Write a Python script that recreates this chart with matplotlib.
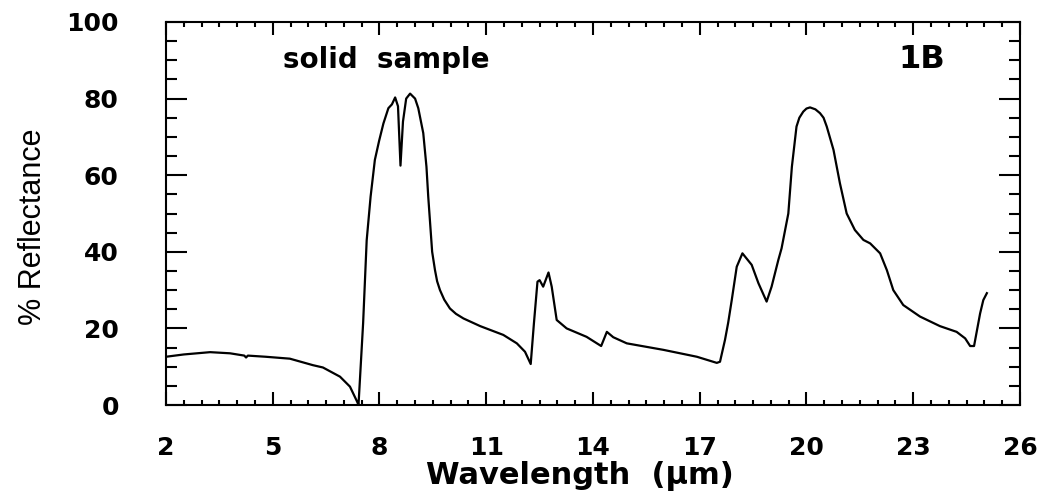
import numpy as np
from matplotlib import pyplot as plt
from matplotlib.ticker import MultipleLocator

# Спектр отражения
wavelength = [2.0, 2.5, 3.24, 3.8, 4.2, 4.25, 4.3, 4.8, 5.48, 6.13, 6.41, 6.89, 7.17, 7.37, 7.41,
              7.54, 7.64, 7.75, 7.87, 7.99, 8.11, 8.25, 8.35, 8.44, 8.52, 8.59, 8.66, 8.75, 8.86,
              9.0, 9.09, 9.23, 9.32, 9.37, 9.48, 9.56, 9.62, 9.70, 9.82, 9.98, 10.15, 10.36, 10.83,
              11.48, 11.86, 12.09, 12.25, 12.34, 12.44, 12.5, 12.6, 12.75, 12.84, 12.98, 13.26,
              13.82, 14.23, 14.39, 14.57, 14.95, 15.98, 16.92, 17.48, 17.57, 17.71, 17.8, 17.9,
              18.04, 18.2, 18.46, 18.65, 18.88, 19.02, 19.21, 19.3, 19.49, 19.59, 19.72, 19.8,
              19.91, 20.0, 20.1, 20.25, 20.38, 20.48, 20.57, 20.76, 20.94, 21.13, 21.36, 21.6,
              21.79, 22.07, 22.26, 22.44, 22.72, 23.19, 23.75, 24.22, 24.46, 24.6, 24.71, 24.88,
              24.97, 25.07]
reflectance = [12.6, 13.2, 13.8, 13.5, 12.9, 12.4, 12.9, 12.6, 12.1, 10.4, 9.8, 7.4, 4.8, 0.9, 0.0,
               21.4, 43.0, 54.4, 64.0, 69.0, 73.5, 77.5, 78.5, 80.3, 78.0, 62.5, 74.0, 80.0, 81.3,
               80.0, 77.5, 71.0, 62.2, 54.4, 40.0, 35.2, 32.3, 30.0, 27.5, 25.2, 23.8, 22.6, 20.6,
               18.3, 16.1, 13.9, 10.7, 21.3, 32.2, 32.6, 30.9, 34.6, 30.9, 22.2, 20.0,
               17.8, 15.4, 19.1, 17.7, 16.1, 14.4, 12.6, 11.0, 11.3, 17.0, 21.5, 27.4,
               36.1, 39.6, 36.6, 31.8, 27.0, 30.9, 37.9, 40.9, 50.0, 62.2, 72.7, 75.0,
               76.6, 77.4, 77.7, 77.2, 76.2, 75.0, 72.7, 66.6, 57.9, 50.0, 45.7, 43.1,
               42.2, 39.6, 35.2, 30.0, 26.1, 23.1, 20.6, 19.1, 17.4, 15.4, 15.4, 23.9,
               27.4, 29.2]

x_ticks = [2, 5, 8, 11, 14, 17, 20, 23, 26]
y_ticks = [0, 20, 40, 60, 80, 100]

fig = plt.figure(figsize=(10.54, 4.92), dpi=100)
ax = fig.add_axes([0.1575, 0.1768, 0.8102, 0.7785])

ax.plot(wavelength, reflectance, color='black', linewidth=1.6)

ax.set_xlim(2, 26)
ax.set_ylim(0, 100)
ax.set_xticks(x_ticks)
ax.set_yticks(y_ticks)
ax.xaxis.set_minor_locator(MultipleLocator(0.5))
ax.yaxis.set_minor_locator(MultipleLocator(5))

# Тики внутрь со всех сторон
ax.tick_params(which='both', direction='in', top=True, right=True, width=1.5, colors='black')
ax.tick_params(axis='x', which='major', length=9.5, pad=22, labelsize=18)
ax.tick_params(axis='x', which='minor', length=3.6)
ax.tick_params(axis='y', which='major', length=15, pad=34, labelsize=18)
ax.tick_params(axis='y', which='minor', length=8)
for lab in ax.get_xticklabels() + ax.get_yticklabels():
    lab.set_fontweight('bold')
for s in ax.spines.values():
    s.set_linewidth(1.5)

ax.set_xlabel('Wavelength  (μm)', fontsize=22, fontweight='bold')
ax.xaxis.set_label_coords(0.485, -0.145)
ax.set_ylabel('% Reflectance', fontsize=22, family=['Liberation Sans Narrow', 'Liberation Sans'])
ax.yaxis.set_label_coords(-0.138, 0.465)

ax.text(0.137, 0.88, 'solid  sample', transform=ax.transAxes, fontsize=20, fontweight='bold')
ax.text(0.912, 0.88, '1B', transform=ax.transAxes, fontsize=23, fontweight='heavy', ha='right')

plt.savefig('out.png', dpi=100)
